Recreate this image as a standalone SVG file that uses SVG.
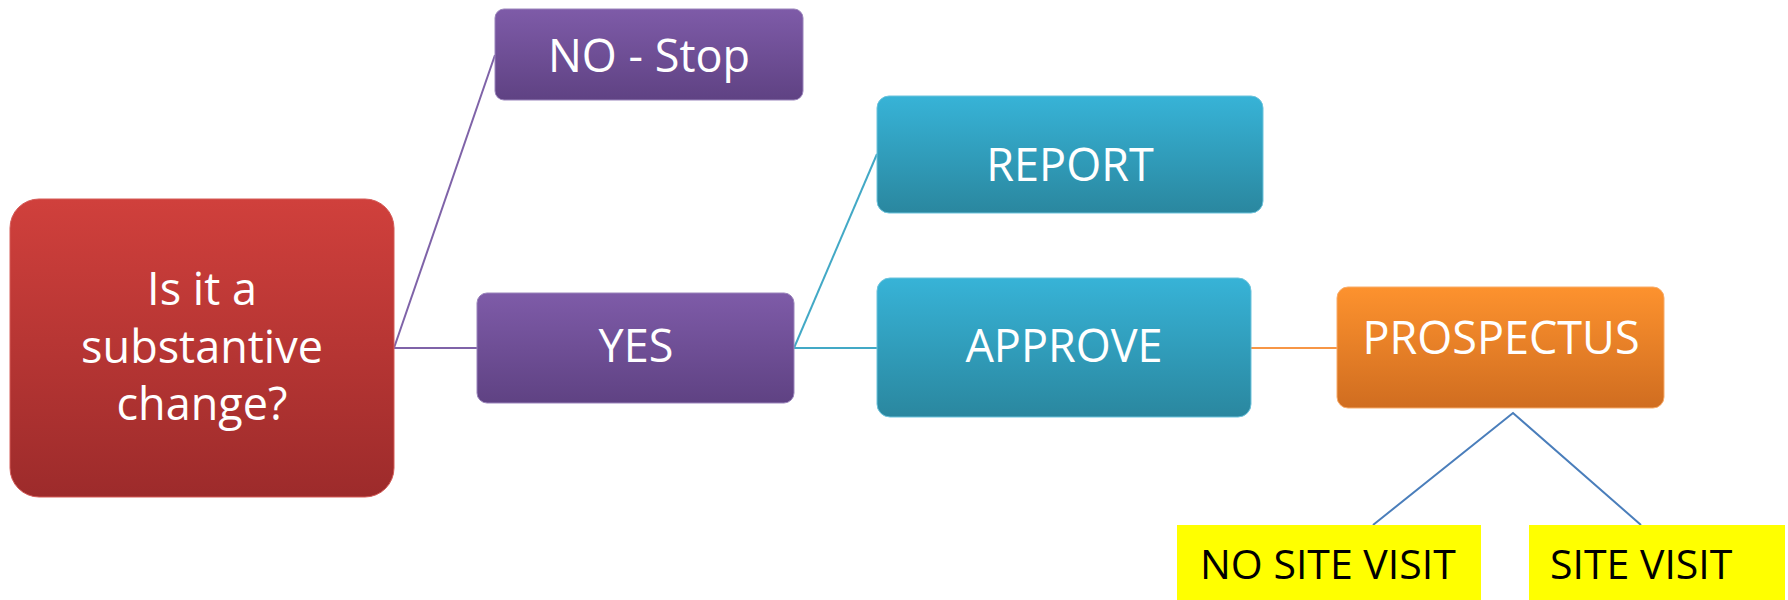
<svg xmlns="http://www.w3.org/2000/svg" width="1788" height="600" viewBox="0 0 1788 600">
<defs>
<linearGradient id="gRed" x1="0" y1="0" x2="0" y2="1"><stop offset="0" stop-color="#d0403c"/><stop offset="1" stop-color="#9d2b2b"/></linearGradient>
<linearGradient id="gPurple" x1="0" y1="0" x2="0" y2="1"><stop offset="0" stop-color="#7e5ba8"/><stop offset="1" stop-color="#5f4283"/></linearGradient>
<linearGradient id="gTeal" x1="0" y1="0" x2="0" y2="1"><stop offset="0" stop-color="#37b3d7"/><stop offset="1" stop-color="#2a879f"/></linearGradient>
<linearGradient id="gOrange" x1="0" y1="0" x2="0" y2="1"><stop offset="0" stop-color="#fd922e"/><stop offset="1" stop-color="#d06d20"/></linearGradient>
<style>
.lbl{font-family:"Open Sans","Noto Sans",sans-serif;font-size:45px;fill:#ffffff;text-anchor:middle}
.ylbl{font-family:"Open Sans","Noto Sans",sans-serif;font-size:41px;fill:#000000}
.box{stroke-width:1}
.yel{fill:#ffff00}
.c{fill:none;stroke-width:2}
</style>
</defs>
<rect width="1788" height="600" fill="#ffffff"/>
<g id="connectors">
<line class="c" stroke="#7f63a8" x1="394" y1="348" x2="495" y2="55"/>
<line class="c" stroke="#7f63a8" x1="394" y1="348" x2="477" y2="348"/>
<line class="c" stroke="#43a9c6" x1="794" y1="348" x2="877" y2="154"/>
<line class="c" stroke="#43a9c6" x1="794" y1="348" x2="877" y2="348"/>
<line class="c" stroke="#f79646" x1="1251" y1="348" x2="1337" y2="348"/>
<polyline class="c" stroke="#4a7ebb" points="1373,525 1513,413 1641,525"/>
</g>
<g id="node-question">
<rect class="box" x="10" y="199" width="384" height="298" rx="29" fill="url(#gRed)" stroke="#d45a57"/>
<text class="lbl" x="202" y="305">Is it a</text>
<text class="lbl" x="202" y="363">substantive</text>
<text class="lbl" x="202" y="420">change?</text>
</g>
<g id="node-nostop">
<rect class="box" x="495" y="9" width="308" height="91" rx="9" fill="url(#gPurple)" stroke="#9a84bb"/>
<text class="lbl" x="649" y="72">NO - Stop</text>
</g>
<g id="node-yes">
<rect class="box" x="477" y="293" width="317" height="110" rx="10" fill="url(#gPurple)" stroke="#9a84bb"/>
<text class="lbl" x="636" y="362">YES</text>
</g>
<g id="node-report">
<rect class="box" x="877" y="96" width="386" height="117" rx="12" fill="url(#gTeal)" stroke="#6cc3dc"/>
<text class="lbl" x="1070" y="181">REPORT</text>
</g>
<g id="node-approve">
<rect class="box" x="877" y="278" width="374" height="139" rx="13" fill="url(#gTeal)" stroke="#6cc3dc"/>
<text class="lbl" x="1064" y="362">APPROVE</text>
</g>
<g id="node-prospectus">
<rect class="box" x="1337" y="287" width="327" height="121" rx="11" fill="url(#gOrange)" stroke="#f8ac6a"/>
<text class="lbl" x="1501" y="354">PROSPECTUS</text>
</g>
<g id="node-nositevisit">
<rect class="yel" x="1177" y="525" width="304" height="75"/>
<text class="ylbl" x="1200" y="579">NO SITE VISIT</text>
</g>
<g id="node-sitevisit">
<rect class="yel" x="1529" y="525" width="256" height="75"/>
<text class="ylbl" x="1550" y="579">SITE VISIT</text>
</g>
</svg>
